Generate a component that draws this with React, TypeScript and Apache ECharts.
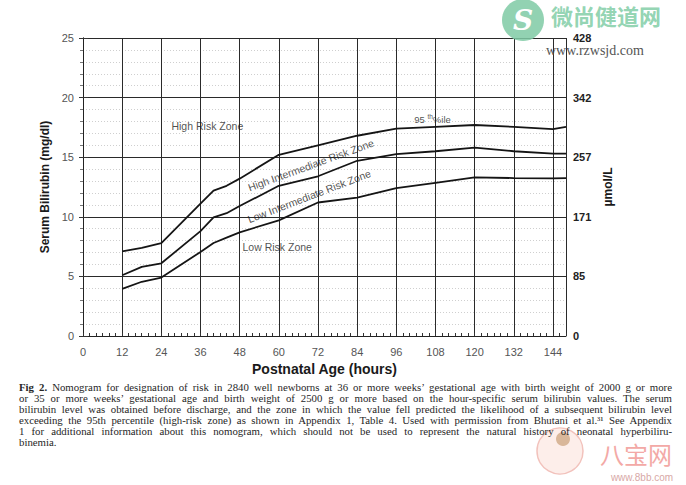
import React, { useEffect, useRef } from "react";
import * as echarts from "echarts";

// Data
const hours = [12, 18, 24, 36, 40, 44, 48, 60, 72, 84, 96, 108, 120, 132, 144, 148];
const p95 = [7.1, 7.4, 7.8, 11.1, 12.2, 12.6, 13.2, 15.2, 16.0, 16.8, 17.4, 17.55, 17.7, 17.55, 17.35, 17.55];
const p75 = [5.1, 5.8, 6.1, 8.8, 9.95, 10.3, 10.9, 12.6, 13.4, 14.7, 15.25, 15.5, 15.8, 15.5, 15.3, 15.3];
const p40 = [3.95, 4.55, 4.9, 7.05, 7.8, 8.25, 8.7, 9.7, 11.2, 11.6, 12.4, 12.85, 13.3, 13.25, 13.22, 13.25];

const xTickLabels = [0, 12, 24, 36, 48, 60, 72, 84, 96, 108, 120, 132, 144];
const leftTickLabels = [0, 5, 10, 15, 20, 25];
const rightTickLabels = ["0", "85", "171", "257", "342", "428"];

const zoneLabels = ["High Risk Zone", "High Intermediate Risk Zone", "Low Intermediate Risk Zone", "Low Risk Zone"];
const zoneLabelAt = [[38.1, 17.6], [69.8, 14.35], [69.3, 11.74], [59.5, 7.48]];
const zoneLabelRotate = [0, 20, 21, 0];
const pctLabelAt = [107.1, 18.2];

const captionLines = [
  "Nomogram for designation of risk in 2840 well newborns at 36 or more weeks’ gestational age with birth weight of 2000 g or more",
  "or 35 or more weeks’ gestational age and birth weight of 2500 g or more based on the hour-specific serum bilirubin values. The serum",
  "bilirubin level was obtained before discharge, and the zone in which the value fell predicted the likelihood of a subsequent bilirubin level",
  "exceeding the 95th percentile (high-risk zone) as shown in Appendix 1, Table 4. Used with permission from Bhutani et al.³¹ See Appendix",
  "1 for additional information about this nomogram, which should not be used to represent the natural history of neonatal hyperbiliru-",
  "binemia.",
];

const SANS = "'Liberation Sans', Arial, Helvetica, sans-serif";

function pair(xs: number[], ys: number[]) {
  return xs.map((x, i) => [x, ys[i]]);
}

export default function App() {
  const ref = useRef<HTMLDivElement>(null);

  useEffect(() => {
    document.body.style.margin = "0";
    if (!ref.current) return;
    const chart = echarts.init(ref.current, null, { renderer: "svg" });
    const curve = (name: string, ys: number[]) => ({
      name,
      type: "line",
      data: pair(hours, ys),
      showSymbol: false,
      symbol: "none",
      lineStyle: { color: "#151515", width: 1.8 },
      z: 5,
    });
    const option: any = {
      animation: false,
      backgroundColor: "#ffffff",
      textStyle: { fontFamily: SANS },
      grid: { left: 83, right: 120, top: 38, bottom: 149, containLabel: false },
      xAxis: [
        {
          type: "value",
          min: 0,
          max: 148,
          interval: 12,
          name: "Postnatal Age (hours)",
          nameLocation: "middle",
          nameGap: 24,
          nameTextStyle: { fontFamily: SANS, fontSize: 14, fontWeight: "bold", color: "#1a1a1a" },
          axisLine: { show: true, onZero: false, lineStyle: { color: "#222", width: 1 } },
          axisTick: { show: false },
          axisLabel: {
            showMaxLabel: false,
            margin: 10,
            fontSize: 11,
            color: "#555",
            fontFamily: SANS,
            formatter: (v: number) => (xTickLabels.indexOf(v) >= 0 ? String(v) : ""),
          },
          splitLine: { show: true, lineStyle: { color: "#2a2a2a", width: 1 } },
        },
        {
          type: "value",
          min: 0,
          max: 148,
          interval: 2,
          position: "bottom",
          axisLine: { show: false },
          axisTick: { show: true, inside: true, length: 3, lineStyle: { color: "#333" } },
          axisLabel: { show: false },
          splitLine: { show: false },
        },
      ],
      yAxis: [
        {
          type: "value",
          min: 0,
          max: 25,
          interval: 5,
          name: "Serum Bilirubin (mg/dl)",
          nameLocation: "middle",
          nameGap: 29,
          nameTextStyle: { fontFamily: SANS, fontSize: 12, fontWeight: "bold", color: "#1a1a1a" },
          axisLine: { show: true, lineStyle: { color: "#222", width: 1 } },
          axisTick: { show: true, length: 4, lineStyle: { color: "#333" } },
          minorTick: { show: true, splitNumber: 5, length: 3, lineStyle: { color: "#777" } },
          axisLabel: {
            margin: 9,
            fontSize: 11,
            color: "#555",
            fontFamily: SANS,
            formatter: (v: number) => (leftTickLabels.indexOf(v) >= 0 ? String(v) : ""),
          },
          splitLine: { show: true, lineStyle: { color: "#2a2a2a", width: 1 } },
          minorSplitLine: { show: true, lineStyle: { color: "#cfcfcf", width: 1, type: [1, 2] } },
        },
        {
          type: "value",
          min: 0,
          max: 25,
          interval: 5,
          position: "right",
          name: "µmol/L",
          nameLocation: "middle",
          nameGap: 29,
          nameRotate: 90,
          nameTextStyle: { fontFamily: SANS, fontSize: 12, fontWeight: "bold", color: "#1a1a1a" },
          axisLine: { show: true, lineStyle: { color: "#222", width: 1 } },
          axisTick: { show: true, length: 5, lineStyle: { color: "#333" } },
          axisLabel: {
            margin: 7,
            fontSize: 11,
            fontWeight: "bold",
            color: "#222",
            fontFamily: SANS,
            formatter: (v: number) => {
              const i = leftTickLabels.indexOf(v);
              return i >= 0 ? rightTickLabels[i] : "";
            },
          },
          splitLine: { show: false },
        },
      ],
      series: [
        curve("95th percentile", p95),
        curve("75th percentile", p75),
        curve("40th percentile", p40),
        {
          type: "scatter",
          symbolSize: 1,
          itemStyle: { color: "rgba(0,0,0,0)" },
          silent: true,
          z: 6,
          data: zoneLabels.map((t, i) => ({
            value: zoneLabelAt[i],
            label: {
              show: true,
              position: "inside",
              formatter: t,
              rotate: zoneLabelRotate[i],
              fontSize: 10.5,
              color: "#1e1e1e",
              fontFamily: SANS,
            },
          })),
        },
        {
          type: "scatter",
          symbolSize: 1,
          itemStyle: { color: "rgba(0,0,0,0)" },
          silent: true,
          z: 6,
          data: [
            {
              value: pctLabelAt,
              label: {
                show: true,
                position: "inside",
                formatter: "{a|95 }{s|th}{a|%ile}",
                rich: {
                  a: { fontSize: 9.5, color: "#1e1e1e", fontFamily: SANS, lineHeight: 12 },
                  s: { fontSize: 6.5, color: "#1e1e1e", fontFamily: SANS, verticalAlign: "top", lineHeight: 12 },
                },
              },
            },
          ],
        },
      ],
      graphic: [
        {
          type: "circle",
          shape: { cx: 523, cy: 20, r: 21 },
          style: { fill: "#7fcaa5", opacity: 0.85 },
          z: 100,
        },
        {
          type: "text",
          x: 523,
          y: 20,
          style: {
            text: "S",
            fill: "#ffffff",
            font: "bold italic 28px 'DejaVu Serif', serif",
            align: "center",
            verticalAlign: "middle",
          },
          z: 101,
        },
        {
          type: "text",
          x: 551,
          y: 15,
          style: {
            text: "微尚健道网",
            fill: "#86cfaa",
            opacity: 0.9,
            font: "bold 22px 'Noto Sans CJK SC', sans-serif",
            verticalAlign: "middle",
          },
          z: 100,
        },
        {
          type: "text",
          x: 546,
          y: 50,
          style: {
            text: "www.rzwsjd.com",
            fill: "#555555",
            font: "14px 'Liberation Serif', serif",
            verticalAlign: "middle",
          },
          z: 100,
        },
        {
          type: "circle",
          shape: { cx: 560, cy: 451, r: 23 },
          style: { fill: "#fdeeea", stroke: "#f2c2bc", lineWidth: 1.5 },
          z: 100,
        },
        {
          type: "circle",
          shape: { cx: 563, cy: 439, r: 7 },
          style: { fill: "#d9b79a" },
          z: 101,
        },
        {
          type: "text",
          x: 636,
          y: 453,
          style: {
            text: "八宝网",
            fill: "#f3a9a6",
            font: "24px 'Noto Sans CJK SC', sans-serif",
            align: "center",
            verticalAlign: "middle",
          },
          z: 100,
        },
        {
          type: "text",
          x: 642,
          y: 477,
          style: {
            text: "www.8bb.com",
            fill: "#d8a8a6",
            font: "10px 'Liberation Sans', sans-serif",
            align: "center",
            verticalAlign: "middle",
          },
          z: 100,
        },
      ],
    };
    chart.setOption(option);
    return () => chart.dispose();
  }, []);

  return (
    <div style={{ position: "relative", width: 686, height: 485, background: "#fff" }}>
      <div ref={ref} style={{ position: "absolute", left: 0, top: 0, width: 686, height: 485 }} />
      <div
        style={{
          position: "absolute",
          left: 19,
          top: 382,
          width: 653,
          fontFamily: "'Liberation Serif', 'Times New Roman', serif",
          fontSize: 10.8,
          lineHeight: "11px",
          color: "#262626",
          pointerEvents: "none",
        }}
      >
        {captionLines.map((line, i) => (
          <div
            key={i}
            style={{
              textAlign: i < captionLines.length - 1 ? "justify" : "left",
              textAlignLast: i < captionLines.length - 1 ? "justify" : "left",
              whiteSpace: "nowrap",
            }}
          >
            {i === 0 ? (
              <>
                <b>Fig 2.</b> {line}
              </>
            ) : (
              line
            )}
          </div>
        ))}
      </div>
    </div>
  );
}
